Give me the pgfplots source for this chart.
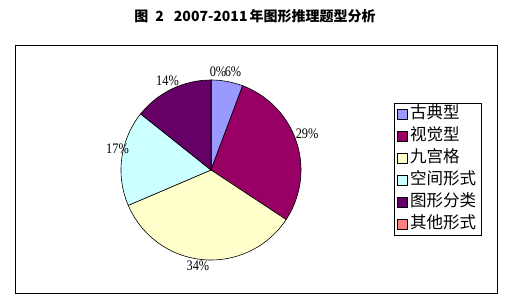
\documentclass[border=0pt]{standalone}
\usepackage{pgfplots}
\pgfplotsset{compat=1.18}
\usepackage{pgfplotstable}
\usepackage{fontspec}
\setmainfont{Liberation Serif}
\newfontfamily\lblfont[FakeStretch=0.85]{Liberation Serif}
\newfontfamily\cjk{Noto Sans CJK SC}
\definecolor{cA}{HTML}{9999FF}
\definecolor{cB}{HTML}{990066}
\definecolor{cC}{HTML}{FFFFCC}
\definecolor{cD}{HTML}{CCFFFF}
\definecolor{cE}{HTML}{660066}
\definecolor{cF}{HTML}{FF8080}

% count, fill colour, label offset (dx, dy) from the default label position
\pgfplotstableread{
name count col dx dy
古典型 2 cA 4 -1.4
视觉型 10 cB 0 4.8
九宫格 12 cC -4 5
空间形式 6 cD 6.6 7.8
图形分类 5 cE 0.3 -2
其他形式 0 cF 7 -3
}\piedata

\begin{document}
\begin{tikzpicture}
\useasboundingbox (0,0) rectangle (510bp,302bp);
\begin{axis}[
  x=1bp, y=1bp, xmin=0, xmax=510, ymin=0, ymax=302,
  anchor=origin, at={(0,0)},
  hide axis, clip=false,
  legend image code/.code={\draw[#1, line width=0.6bp] (0bp,-5bp) rectangle (10bp,5bp);},
  legend cell align=left,
  legend style={draw=black, line width=0.8bp,
    at={(axis cs:394,199)}, anchor=north west,
    inner xsep=3bp, inner ysep=0bp, row sep=0bp,
    font=\cjk\fontsize{16.5bp}{18bp}\selectfont,
    nodes={inner xsep=2bp, inner ysep=2bp, text height=13bp, text depth=5bp},
    column 2/.style={nodes={text width=74bp, align=left}}},
]
% frame
\draw[line width=0.8bp] (axis cs:15,9) rectangle (axis cs:497,257);
% title
\node[font=\cjk\bfseries\fontsize{14bp}{16bp}\selectfont] at (axis cs:255,286)
  {图\hspace{7bp}2\hspace{10bp}2007-2011\hspace{2bp}年图形推理题型分析};
% pie
\pgfplotstablegetrowsof{\piedata}
\pgfmathtruncatemacro\nrows{\pgfplotsretval-1}
\def\total{0}
\pgfplotsforeachungrouped \i in {0,...,\nrows}{%
  \pgfplotstablegetelem{\i}{count}\of\piedata
  \pgfmathsetmacro\total{\total+\pgfplotsretval}%
}
\def\cum{0}
\pgfplotsforeachungrouped \i in {0,...,\nrows}{%
  \pgfplotstablegetelem{\i}{count}\of\piedata
  \let\v\pgfplotsretval
  \pgfplotstablegetelem{\i}{col}\of\piedata
  \let\c\pgfplotsretval
  \pgfplotstablegetelem{\i}{dx}\of\piedata
  \let\ddx\pgfplotsretval
  \pgfplotstablegetelem{\i}{dy}\of\piedata
  \let\ddy\pgfplotsretval
  \pgfmathsetmacro\aS{90-360*\cum/\total}%
  \pgfmathsetmacro\aE{90-360*(\cum+\v)/\total}%
  \pgfmathsetmacro\aM{(\aS+\aE)/2}%
  \pgfmathtruncatemacro\pc{round(100*\v/\total)}%
  \pgfmathsetmacro\lx{211+101*cos(\aM)+\ddx}%
  \pgfmathsetmacro\ly{132+101*sin(\aM)+\ddy}%
  \pgfmathsetmacro\cum{\cum+\v}%
  \edef\temp{\noexpand\filldraw[fill=\c, draw=black, line width=0.6bp]
     (axis cs:211,132) -- ++(\aS:90bp) arc[start angle=\aS, end angle=\aE, radius=90bp] -- cycle;
     \noexpand\node[font=\noexpand\lblfont\noexpand\fontsize{14.5bp}{16bp}\noexpand\selectfont, inner sep=0pt]
     at (axis cs:\lx,\ly) {\pc\noexpand\%};}%
  \temp
}
% legend
\addlegendimage{fill=cA, draw=black}
\addlegendimage{fill=cB, draw=black}
\addlegendimage{fill=cC, draw=black}
\addlegendimage{fill=cD, draw=black}
\addlegendimage{fill=cE, draw=black}
\addlegendimage{fill=cF, draw=black}
\legend{古典型,视觉型,九宫格,空间形式,图形分类,其他形式}
\end{axis}
\end{tikzpicture}
\end{document}
